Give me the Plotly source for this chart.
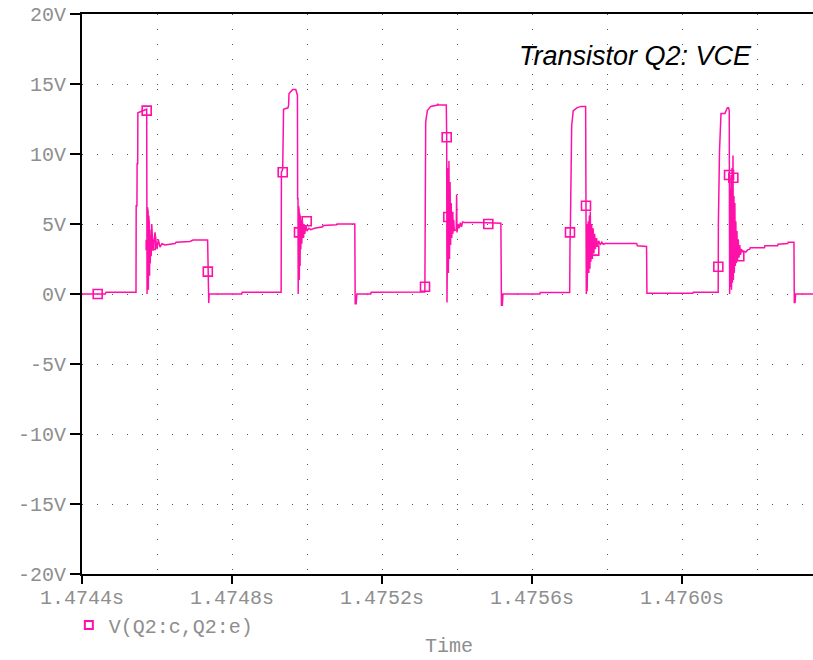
import numpy as np
import plotly.graph_objects as go

# Simulation window start (s); sample times below are microseconds after it
T0 = 1.4744

time_us = [
    0, 62, 64, 144, 144.5, 146.5, 147, 148.5, 149, 162, 172.5, 173.5,
    174.5, 175.3, 176.3, 177, 178, 178.6, 179.5, 180.2, 181, 182, 183, 184.5,
    186, 189.3, 194.7, 200, 203.5, 208, 213.3, 221.3, 248, 250.7, 288, 296,
    335, 336, 338, 339, 426, 427,
    531, 531.8, 535.2, 537.5, 549.3, 551, 552, 558, 562, 570, 573, 574.5,
    575, 576, 576.5, 577.5, 578, 579, 579.5, 580.5, 581.5, 582.5, 583.5, 584.5,
    586, 588, 590, 592, 594, 597, 600, 605, 610, 620, 642, 643, 679, 680,
    727.5, 728.5, 731, 733, 770, 771,
    914.3, 915, 916.5, 921, 930, 948, 949, 950, 971.5, 972.5, 973.3,
    974, 975, 976, 977, 978.5, 980, 981.5, 983, 984.5, 986, 987.5, 989, 991,
    993, 998, 999, 1000, 1003, 1006, 1009, 1012, 1015, 1020, 1060, 1117,
    1118.5, 1121, 1122.5, 1221, 1222,
    1300.5, 1301.3, 1302.5, 1305.8, 1310, 1320, 1330, 1343, 1344, 1344.8,
    1346, 1347, 1348, 1349, 1350, 1351.5, 1353, 1354.5, 1355.5, 1357, 1359,
    1361, 1363, 1365, 1367, 1369, 1372, 1375, 1378, 1382, 1386, 1390, 1395,
    1479, 1481, 1505.5, 1506.5, 1629, 1630,
    1696.5, 1697, 1700, 1704, 1714.5, 1721, 1724, 1726, 1727,
    1728.5, 1729.5, 1731, 1732, 1733.5, 1734.5, 1736, 1737, 1738.5, 1739.5,
    1741, 1742, 1743.5, 1745, 1746.5, 1748, 1750, 1752, 1754, 1756, 1758,
    1761, 1770, 1775, 1781, 1782, 1820, 1821, 1855, 1856, 1882, 1883,
    1898.5, 1899.5, 1901.5, 1903, 1950,
]

vce = [
    0.0, 0.0, 0.12, 0.12, 6.3, 6.3, 9.3, 9.3, 12.95, 13.1, 13.2, 0.0,
    6.2, 0.2, 5.9, 0.3, 5.6, 0.5, 5.0, 1.3, 4.6, 2.2, 4.2, 2.7,
    5.0, 3.1, 4.4, 3.2, 3.9, 3.35, 3.6, 3.5, 3.6, 3.7, 3.75, 3.85,
    3.85, -0.65, -0.65, 0.0, 0.0, 0.12,
    0.12, 8.7, 8.9, 13.2, 13.3, 13.5, 14.3, 14.5, 14.6, 14.6, 14.4, 14.2,
    6.8, 6.8, 0.0, 6.3, 0.3, 6.0, 1.0, 5.8, 2.0, 5.6, 3.2, 5.3,
    3.6, 5.2, 4.0, 5.0, 4.3, 4.9, 4.5, 4.7, 4.6, 4.7, 4.8, 4.9, 4.95, 5.0,
    5.0, -0.7, -0.7, 0.0, 0.0, 0.12,
    0.15, 9.7, 12.3, 13.1, 13.4, 13.5, 13.6, 13.5, 13.5, 11.2, -0.6,
    8.5, 0.5, 9.0, 1.5, 9.5, 2.5, 8.0, 3.5, 6.5, 4.0, 5.5, 4.3, 5.3,
    4.5, 4.6, 7.1, 4.4, 5.0, 4.7, 5.1, 4.8, 5.15, 5.1, 5.1, 5.05,
    -0.8, -0.8, 0.0, 0.0, 0.1,
    0.1, 3.6, 5.0, 12.0, 13.1, 13.3, 13.4, 13.4, 6.3, 0.0,
    5.0, 0.2, 4.8, 0.8, 5.2, 1.5, 5.6, 1.8, 5.9, 2.3, 5.0,
    2.5, 4.7, 2.9, 4.3, 3.2, 4.0, 3.4, 3.8, 3.5, 3.7, 3.55, 3.6,
    3.6, 3.45, 3.4, 0.05, 0.05, 0.12,
    0.12, 5.0, 10.2, 12.9, 12.9, 13.3, 13.3, 13.1, 0.0,
    7.5, 0.5, 8.5, 0.3, 9.0, 0.8, 9.9, 1.0, 7.0, 1.5,
    6.5, 2.0, 5.2, 2.2, 4.5, 2.4, 3.9, 2.6, 3.5, 2.8, 3.2,
    3.1, 3.0, 3.15, 3.2, 3.3, 3.3, 3.45, 3.45, 3.55, 3.6, 3.7,
    3.7, -0.6, -0.6, 0.0, 0.0,
]

# Symbol markers placed along the trace
marker_us = [41.9, 172.5, 183.2, 335.5, 535.2, 578.7, 599.2, 914.7, 972.5,
             976.8, 1083.5, 1301.3, 1344, 1366.1, 1696.9, 1725.5, 1736.9, 1752.8]
marker_v = [0.0, 13.1, 3.5, 1.6, 8.7, 4.4, 5.2, 0.52, 11.2,
            5.5, 5.0, 4.4, 6.3, 3.1, 1.95, 8.5, 8.3, 2.7]

x_tickvals = [1.4744, 1.4748, 1.4752, 1.4756, 1.4760]
x_ticktext = ["1.4744s", "1.4748s", "1.4752s", "1.4756s", "1.4760s"]
y_tickvals = [20, 15, 10, 5, 0, -5, -10, -15, -20]
y_ticktext = ["20V", "15V", "10V", "5V", "0V", "-5V", "-10V", "-15V", "-20V"]

TRACE = "#ff10a8"
LABEL = "#8e8e8e"
MONO = "Liberation Mono, DejaVu Sans Mono, monospace"

t = T0 + np.array(time_us) * 1e-6
tm = T0 + np.array(marker_us) * 1e-6

fig = go.Figure()
fig.add_trace(go.Scatter(
    x=t, y=vce, mode="lines", line=dict(color=TRACE, width=1.5),
    showlegend=False, hoverinfo="skip",
))
fig.add_trace(go.Scatter(
    x=tm, y=marker_v, mode="markers",
    marker=dict(symbol="square-open", size=9, color=TRACE, line=dict(width=1.6, color=TRACE)),
    showlegend=False,
))
# Legend entry: symbol only
fig.add_trace(go.Scatter(
    x=[None], y=[None], mode="markers", name="V(Q2:c,Q2:e)",
    marker=dict(symbol="square-open", size=8, color=TRACE, line=dict(width=2, color=TRACE)),
))

grid = dict(gridcolor="#555555", gridwidth=1, griddash="1px,14px")

fig.update_layout(
    width=813, height=660,
    margin=dict(l=82, r=0, t=14, b=86),
    plot_bgcolor="white", paper_bgcolor="white",
    font=dict(family=MONO, size=20, color=LABEL),
    showlegend=True,
    legend=dict(x=-0.018, y=-0.091, xanchor="left", yanchor="middle",
                bgcolor="rgba(0,0,0,0)", font=dict(family=MONO, size=20, color=LABEL),
                itemsizing="trace"),
    xaxis=dict(
        range=[T0, T0 + 731 / 150 * 0.0004],
        tickmode="array", tickvals=x_tickvals, ticktext=x_ticktext,
        ticks="outside", ticklen=8, tickwidth=2, tickcolor="black",
        ticklabelstandoff=-4,
        showline=True, linecolor="black", linewidth=2, mirror=True,
        showgrid=True, **grid,
        minor=dict(tickmode="linear", tick0=T0, dtick=0.0002, showgrid=True,
                   ticks="", **grid),
        zeroline=False,
        automargin=False,
    ),
    yaxis=dict(
        range=[-20, 20],
        tickmode="array", tickvals=y_tickvals, ticktext=y_ticktext,
        ticks="outside", ticklen=10, tickwidth=2, tickcolor="black",
        showline=True, linecolor="black", linewidth=2, mirror=False,
        showgrid=True, **grid,
        zeroline=False,
        automargin=False,
    ),
    annotations=[
        dict(
            text="Transistor Q2: VCE", xref="paper", yref="paper",
            x=(635 - 82) / 731, y=0.925, xanchor="center", yanchor="middle", showarrow=False,
            font=dict(family="Liberation Sans, Arial, sans-serif", size=27, color="black", style="italic"),
        ),
        # x-axis title
        dict(
            text="Time", xref="paper", yref="paper",
            x=(449 - 82) / 731, y=-(646 - 574) / 560, xanchor="center", yanchor="middle",
            showarrow=False, font=dict(family=MONO, size=20, color=LABEL),
        ),
    ],
)

fig.write_html("out.html")
